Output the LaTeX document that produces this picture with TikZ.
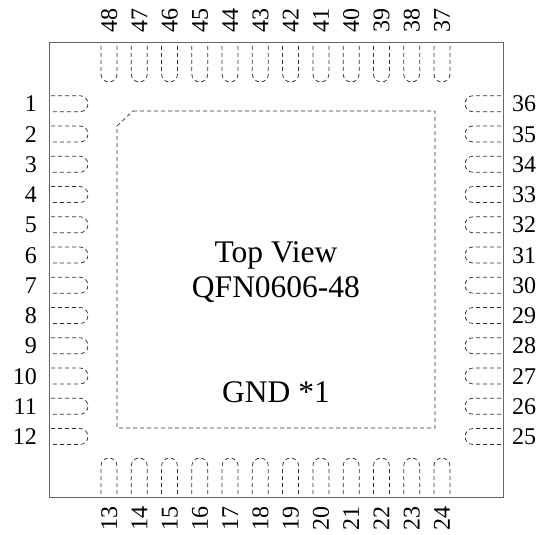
\documentclass[tikz,border=0pt]{standalone}
\usepackage{fontspec}
\setmainfont{Liberation Serif}
\usetikzlibrary{calc}
\begin{document}
\begin{tikzpicture}[x=1pt,y=-1pt]
            \tikzstyle{pad lines}=[dash pattern=on 4pt off 3pt, line width=0.75pt, black!80];
            \tikzstyle{pin num}=[inner sep=0pt, font=\fontsize{24}{24}\selectfont];
            \tikzstyle{big text}=[inner sep=0pt, anchor=base, font=\fontsize{31.5}{32}\selectfont];
            \useasboundingbox (0,0) rectangle (541,535);

            % Package outline
            \draw[line width=1pt, black!60] (49,43) rectangle (503,497);

            % Exposed pad with corner mark
            \draw[pad lines] (133,111) -- (435,111) -- (435,428) -- (117,428) -- (117,126) -- cycle;

            % Left pins 1..12 and right pins 36..25
            \foreach \i in {0,...,11} {
                \pgfmathsetmacro{\cy}{103.75+30.25*\i}
                \pgfmathtruncatemacro{\nl}{1+\i}
                \pgfmathtruncatemacro{\nr}{36-\i}
                \draw[pad lines] (51,\cy-8) -- (80,\cy-8) arc[start angle=-90, end angle=90, radius=8] -- (51,\cy+8);
                \draw[pad lines] (501,\cy-8) -- (473,\cy-8) arc[start angle=-90, end angle=-270, radius=8] -- (501,\cy+8);
                \node[pin num, anchor=base east] (pin\nl) at (37,\cy+8) {\nl};
                \node[pin num, anchor=base west] (pin\nr) at (512,\cy+8) {\nr};
            }

            % Top pins 48..37 and bottom pins 13..24
            \foreach \i in {0,...,11} {
                \pgfmathsetmacro{\cx}{109+30.27*\i}
                \pgfmathtruncatemacro{\nt}{48-\i}
                \pgfmathtruncatemacro{\nb}{13+\i}
                \draw[pad lines] (\cx-8,46) -- (\cx-8,74) arc[start angle=180, end angle=0, radius=8] -- (\cx+8,46);
                \draw[pad lines] (\cx-8,494) -- (\cx-8,466) arc[start angle=180, end angle=360, radius=8] -- (\cx+8,494);
                \node[pin num, rotate=90, anchor=base west] (pin\nt) at (\cx+8,33) {\nt};
                \node[pin num, rotate=90, anchor=base east] (pin\nb) at (\cx+8,506) {\nb};
            }

            % Labels inside the pad
            \node[big text] (view) at (276,262) {Top View};
            \node[big text] (pkg) at (276,297) {QFN0606-48};
            \node[big text] (gnd) at (276,402) {GND *1};
        \end{tikzpicture}
\end{document}
